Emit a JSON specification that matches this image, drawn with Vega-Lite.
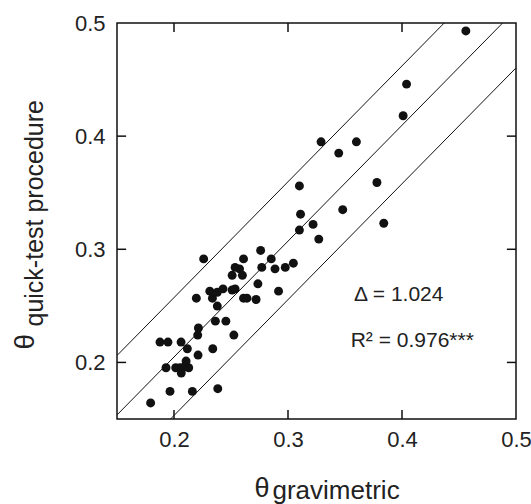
{
  "$schema": "https://vega.github.io/schema/vega-lite/v6.json",
  "width": 399,
  "height": 396,
  "autosize": {"type": "none"},
  "padding": {"left": 117, "top": 23, "right": 15, "bottom": 85},
  "background": "white",
  "config": {
    "view": {"stroke": "#111", "strokeWidth": 1.5},
    "font": "Liberation Sans",
    "axis": {"grid": false, "domain": false, "ticks": false, "labelFont": "Liberation Sans", "titleFont": "Liberation Sans", "labelColor": "#222", "titleColor": "#222", "titleFontWeight": "normal"}
  },
  "resolve": {"axis": {"x": "independent", "y": "independent"}},
  "layer": [
    {
      "data": {"values": [
        {"g": 0.456, "q": 0.493}, {"g": 0.404, "q": 0.446}, {"g": 0.401, "q": 0.418},
        {"g": 0.329, "q": 0.395}, {"g": 0.360, "q": 0.395}, {"g": 0.3445, "q": 0.385},
        {"g": 0.310, "q": 0.356}, {"g": 0.378, "q": 0.359}, {"g": 0.311, "q": 0.331},
        {"g": 0.348, "q": 0.335}, {"g": 0.322, "q": 0.322}, {"g": 0.384, "q": 0.323},
        {"g": 0.310, "q": 0.317}, {"g": 0.327, "q": 0.309}, {"g": 0.226, "q": 0.2915},
        {"g": 0.276, "q": 0.299}, {"g": 0.261, "q": 0.2915}, {"g": 0.2853, "q": 0.2915},
        {"g": 0.3047, "q": 0.2877}, {"g": 0.2976, "q": 0.284}, {"g": 0.277, "q": 0.284},
        {"g": 0.2886, "q": 0.2827}, {"g": 0.2536, "q": 0.284}, {"g": 0.2575, "q": 0.2827},
        {"g": 0.251, "q": 0.277}, {"g": 0.260, "q": 0.277}, {"g": 0.2736, "q": 0.2695},
        {"g": 0.2314, "q": 0.263}, {"g": 0.238, "q": 0.262}, {"g": 0.243, "q": 0.265},
        {"g": 0.251, "q": 0.264}, {"g": 0.2536, "q": 0.265}, {"g": 0.2917, "q": 0.263},
        {"g": 0.2196, "q": 0.2568}, {"g": 0.2337, "q": 0.2568}, {"g": 0.261, "q": 0.2568},
        {"g": 0.264, "q": 0.2568}, {"g": 0.272, "q": 0.2556}, {"g": 0.238, "q": 0.2498},
        {"g": 0.2363, "q": 0.2365}, {"g": 0.2455, "q": 0.2365}, {"g": 0.2214, "q": 0.2304},
        {"g": 0.2208, "q": 0.2242}, {"g": 0.2525, "q": 0.2242}, {"g": 0.1877, "q": 0.218},
        {"g": 0.1947, "q": 0.218}, {"g": 0.2062, "q": 0.218}, {"g": 0.2117, "q": 0.2121},
        {"g": 0.234, "q": 0.2121}, {"g": 0.2211, "q": 0.2065}, {"g": 0.193, "q": 0.1953},
        {"g": 0.2015, "q": 0.1953}, {"g": 0.2053, "q": 0.1953}, {"g": 0.2094, "q": 0.1962},
        {"g": 0.2129, "q": 0.1953}, {"g": 0.2106, "q": 0.2012}, {"g": 0.2064, "q": 0.1906},
        {"g": 0.1965, "q": 0.1744}, {"g": 0.2161, "q": 0.1744}, {"g": 0.2384, "q": 0.1768},
        {"g": 0.1795, "q": 0.1642}
      ]},
      "mark": {"type": "circle", "size": 80, "color": "#111", "opacity": 1},
      "encoding": {
        "x": {"field": "g", "type": "quantitative", "scale": {"domain": [0.15, 0.5], "nice": false, "zero": false},
          "axis": {"orient": "bottom", "values": [0.2, 0.3, 0.4, 0.5], "format": ".1f", "labelPadding": 10, "labelFontSize": 22, "labelFlush": false, "labelOverlap": false, "labelBound": false,
            "title": "θ", "titleFontSize": 27, "titleAlign": "left", "titleAnchor": "start", "titleBaseline": "alphabetic", "titleX": 137, "titleY": 77}},
        "y": {"field": "q", "type": "quantitative", "scale": {"domain": [0.15, 0.5], "nice": false, "zero": false},
          "axis": {"orient": "left", "values": [0.2, 0.3, 0.4, 0.5], "format": ".1f", "labelPadding": 12, "labelFontSize": 22, "labelFlush": false, "labelOverlap": false, "labelBound": false,
            "title": "θ", "titleFontSize": 28, "titleAngle": -90, "titleAlign": "left", "titleAnchor": "start", "titleBaseline": "alphabetic", "titleX": -84, "titleY": 326}}
      }
    },
    {
      "data": {"values": [
        {"band": "upper", "g": 0.15, "q": 0.2061}, {"band": "upper", "g": 0.5, "q": 0.5645},
        {"band": "fit", "g": 0.15, "q": 0.1536}, {"band": "fit", "g": 0.5, "q": 0.512},
        {"band": "lower", "g": 0.15, "q": 0.1019}, {"band": "lower", "g": 0.5, "q": 0.4603}
      ]},
      "mark": {"type": "line", "color": "#111", "strokeWidth": 1, "clip": true},
      "encoding": {
        "detail": {"field": "band", "type": "nominal"},
        "x": {"field": "g", "type": "quantitative", "axis": null},
        "y": {"field": "q", "type": "quantitative", "axis": null}
      }
    },
    {
      "data": {"values": [
        {"g": 0.2, "g2": 0.2, "q": 0.15, "q2": 0.158},
        {"g": 0.3, "g2": 0.3, "q": 0.15, "q2": 0.158},
        {"g": 0.4, "g2": 0.4, "q": 0.15, "q2": 0.158},
        {"g": 0.2, "g2": 0.2, "q": 0.492, "q2": 0.5},
        {"g": 0.3, "g2": 0.3, "q": 0.492, "q2": 0.5},
        {"g": 0.4, "g2": 0.4, "q": 0.492, "q2": 0.5},
        {"g": 0.15, "g2": 0.158, "q": 0.2, "q2": 0.2},
        {"g": 0.15, "g2": 0.158, "q": 0.3, "q2": 0.3},
        {"g": 0.15, "g2": 0.158, "q": 0.4, "q2": 0.4},
        {"g": 0.492, "g2": 0.5, "q": 0.2, "q2": 0.2},
        {"g": 0.492, "g2": 0.5, "q": 0.3, "q2": 0.3},
        {"g": 0.492, "g2": 0.5, "q": 0.4, "q2": 0.4}
      ]},
      "mark": {"type": "rule", "color": "#111", "strokeWidth": 1.5},
      "encoding": {
        "x": {"field": "g", "type": "quantitative", "axis": null},
        "x2": {"field": "g2"},
        "y": {"field": "q", "type": "quantitative", "axis": null},
        "y2": {"field": "q2"}
      }
    },
    {
      "data": {"values": [
        {"label": "Δ  = 1.024", "g": 0.358, "q": 0.26},
        {"label": "R² =  0.976***", "g": 0.355, "q": 0.219}
      ]},
      "mark": {"type": "text", "align": "left", "baseline": "middle", "fontSize": 21, "color": "#222"},
      "encoding": {
        "text": {"field": "label"},
        "x": {"field": "g", "type": "quantitative",
          "axis": {"orient": "bottom", "values": [0.2], "labels": false,
            "title": "gravimetric", "titleFontSize": 26, "titleAlign": "left", "titleAnchor": "start", "titleBaseline": "alphabetic", "titleX": 155, "titleY": 79}},
        "y": {"field": "q", "type": "quantitative",
          "axis": {"orient": "left", "values": [0.2], "labels": false,
            "title": "quick-test procedure", "titleFontSize": 25, "titleAngle": -90, "titleAlign": "left", "titleAnchor": "start", "titleBaseline": "alphabetic", "titleX": -75, "titleY": 303}}
      }
    }
  ]
}
